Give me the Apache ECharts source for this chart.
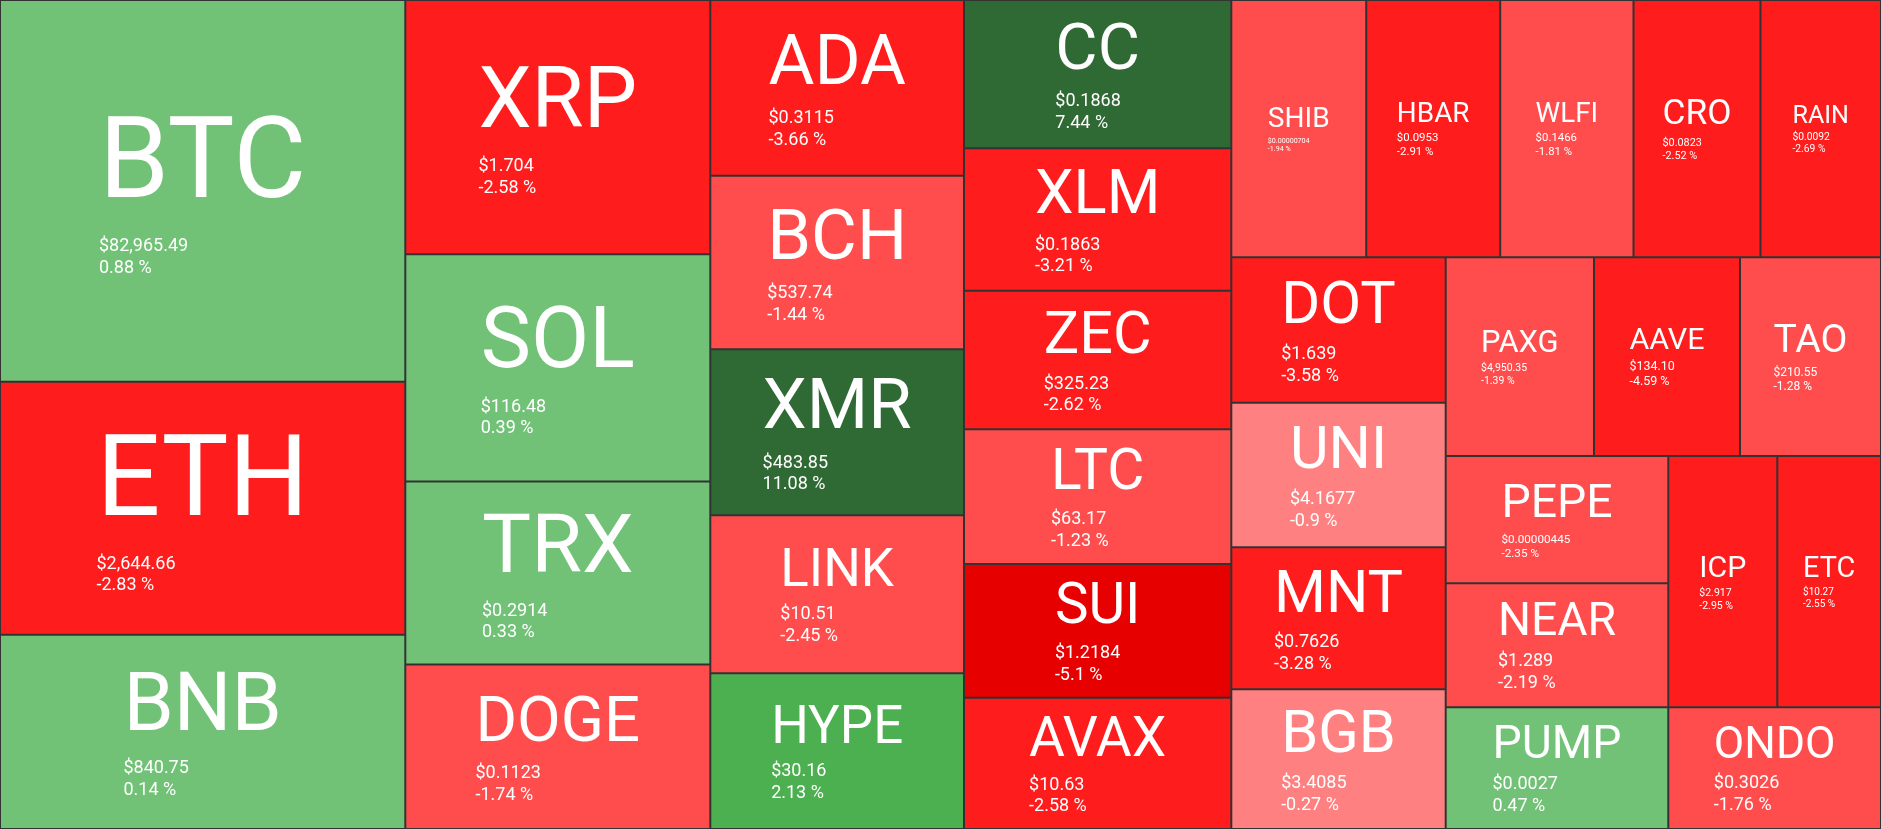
<!DOCTYPE html>
<html><head><meta charset="utf-8">
<script src="https://cdn.jsdelivr.net/npm/echarts@6/dist/echarts.min.js"></script>
<style>html,body{margin:0;padding:0;background:#fff;overflow:hidden}#c{width:1881px;height:829px}</style>
</head><body><div id="c"></div>
<script>
const symbols = ['BTC','ETH','BNB','XRP','SOL','TRX','DOGE','ADA','BCH','XMR','LINK','HYPE','CC','XLM','ZEC','LTC','SUI','AVAX','SHIB','HBAR','WLFI','CRO','RAIN','DOT','UNI','MNT','BGB','PAXG','AAVE','TAO','PEPE','NEAR','PUMP','ICP','ETC','ONDO'];
const prices = [82965.49, 2644.66, 840.75, 1.704, 116.48, 0.2914, 0.1123, 0.3115, 537.74, 483.85, 10.51, 30.16, 0.1868, 0.1863, 325.23, 63.17, 1.2184, 10.63, 0.00000704, 0.0953, 0.1466, 0.0823, 0.0092, 1.639, 4.1677, 0.7626, 3.4085, 4950.35, 134.10, 210.55, 0.00000445, 1.289, 0.0027, 2.917, 10.27, 0.3026];
const changes = [0.88, -2.83, 0.14, -2.58, 0.39, 0.33, -1.74, -3.66, -1.44, 11.08, -2.45, 2.13, 7.44, -3.21, -2.62, -1.23, -5.1, -2.58, -1.94, -2.91, -1.81, -2.52, -2.69, -3.58, -0.9, -3.28, -0.27, -1.39, -4.59, -1.28, -2.35, -2.19, 0.47, -2.95, -2.55, -1.76];
const weights = [154703, 102541, 78750, 77562, 69296, 55815, 50173, 44575, 44042, 42114, 40085, 39501, 39641, 38064, 37048, 36006, 35738, 35096, 34710, 34478, 34298, 32677, 31005, 31174, 31002, 30445, 29952, 29467, 29010, 28017, 28337, 27602, 27090, 27392, 26060, 25886];

function colorFor(c) {
  if (c >= 5) return '#2f6a34';
  if (c >= 2) return '#4caf50';
  if (c >= 0) return '#71c276';
  if (c >= -1) return '#ff8080';
  if (c >= -2.5) return '#ff4d4d';
  if (c >= -5) return '#ff1c1c';
  return '#e60000';
}
function fmtPrice(v) {
  if (v >= 100) return '$' + v.toLocaleString('en-US', {minimumFractionDigits: 2, maximumFractionDigits: 2});
  return '$' + String(v);
}
const FONT = 'Roboto';
const ctx = document.createElement('canvas').getContext('2d');
function tw(t, size) { ctx.font = size + 'px ' + FONT; return ctx.measureText(t).width; }

function baseItems() {
  return symbols.map((s, i) => ({
    name: s,
    value: weights[i],
    priceText: fmtPrice(prices[i]),
    chgText: changes[i] + ' %',
    itemStyle: { color: colorFor(changes[i]) }
  }));
}

const chart = echarts.init(document.getElementById('c'), null, {renderer: 'canvas'});
const option = {
  animation: false,
  series: [{
    type: 'treemap',
    left: 0, top: 0, width: '100%', height: '100%',
    squareRatio: 1.73,
    sort: false,
    roam: false,
    nodeClick: false,
    breadcrumb: { show: false },
    emphasis: { disabled: true },
    upperLabel: { show: false },
    levels: [
      { itemStyle: { borderWidth: 0, gapWidth: 0, borderColor: '#333' } },
      { itemStyle: { borderWidth: 1, gapWidth: 0, borderColor: '#333' } }
    ],
    label: {
      show: true,
      position: 'insideTopLeft',
      distance: 0,
      color: '#fff',
      overflow: 'none',
      fontFamily: FONT,
      formatter: p => '{s|' + p.name + '}\n{p|' + p.data.priceText + '}\n{c|' + p.data.chgText + '}'
    },
    data: baseItems()
  }]
};
chart.setOption(option);

function getLayouts() {
  const map = {};
  try {
    const data = chart.getModel().getSeriesByIndex(0).getData();
    for (let i = 0; i < data.count(); i++) {
      const l = data.getItemLayout(i);
      if (l) map[data.getName(i)] = l;
    }
  } catch (e) {}
  return map;
}

const lay = getLayouts();
const items = baseItems().map((it, i) => {
  const s = it.name;
  const l = lay[s];
  const w = l ? l.width : 200, h = l ? l.height : 150;
  const byWidth = 0.833 * w / s.length;
  const byHeight = 0.5385 * Math.pow(h, 1.35) * Math.pow(w, -0.35);
  const S = Math.min(byWidth, byHeight);
  const em = Math.max(tw(it.priceText, 100), tw(it.chgText, 100)) / 100;
  const P = Math.min(18, 0.31 * w / em);
  const Ls = 1.185 * S, Lp = 1.2 * P;
  const bw = Math.max(tw(s, S), tw(it.priceText, P), tw(it.chgText, P));
  const bh = Ls + 2 * Lp;
  const padL = Math.max(0, (w - 2 - bw) / 2);
  const padT = Math.max(0, (h - 2 - bh) / 2);
  it.label = {
    padding: [padT, 0, 0, padL],
    rich: {
      s: { fontSize: S, lineHeight: Ls, fontFamily: FONT, color: '#fff', align: 'left', verticalAlign: 'middle' },
      p: { fontSize: P, lineHeight: Lp, fontFamily: FONT, color: '#fff', align: 'left', verticalAlign: 'middle' },
      c: { fontSize: P, lineHeight: Lp, fontFamily: FONT, color: '#fff', align: 'left', verticalAlign: 'middle' }
    }
  };
  return it;
});
chart.setOption({ series: [{ data: items }] });
</script>
</body></html>
